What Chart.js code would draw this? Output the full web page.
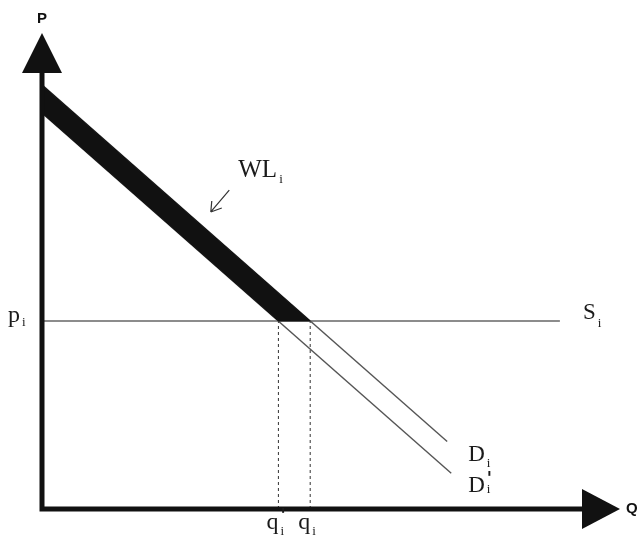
<!DOCTYPE html>
<html>
<head>
<meta charset="utf-8">
<script src="https://cdn.jsdelivr.net/npm/chart.js@4.4.1/dist/chart.umd.min.js"></script>
<style>
  html, body { margin: 0; padding: 0; background: #fff; }
</style>
</head>
<body>
<canvas id="wlChart" width="639" height="539"></canvas>
<script>
// values, both axes in 0-100 units
const priceLevel = 39.5;            // p_i (horizontal supply S_i)
const supplyEndX = 89.6;
const demandX = [0, 70.1];          // D_i
const demandY = [89.1, 14.2];
const demandShiftX = [0, 70.8];     // D_i'
const demandShiftY = [83.2, 7.5];
const quantities = [40.9, 46.4];    // q_i', q_i
const quantityPrimes = ["'", ""];
const wlArrowX = [32.4, 29.2];      // little pointer at the WL band
const wlArrowY = [67.0, 62.4];

const pts = (xs, ys) => xs.map((v, i) => ({ x: v, y: ys[i] }));

// lower edge of the black band: D_i' down to p_i, then along p_i to D_i
const bandLower = [
    { x: demandShiftX[0], y: demandShiftY[0] },
    { x: quantities[0], y: priceLevel },
    { x: quantities[1], y: priceLevel }
];
const bandUpper = [
    { x: demandX[0], y: demandY[0] },
    { x: quantities[1], y: priceLevel }
];

const thin = { showLine: true, pointRadius: 0, tension: 0, fill: false };

const datasets = [
    { ...thin, data: bandUpper, borderColor: '#111', borderWidth: 1,
      fill: '+1', backgroundColor: '#111' },
    { ...thin, data: bandLower, borderColor: '#111', borderWidth: 1 },
    { ...thin, data: pts(demandX, demandY), borderColor: '#555', borderWidth: 1.4 },
    { ...thin, data: pts(demandShiftX, demandShiftY), borderColor: '#555', borderWidth: 1.4 },
    { ...thin, data: [{ x: 0, y: priceLevel }, { x: supplyEndX, y: priceLevel }],
      borderColor: '#666', borderWidth: 1.3 }
];
quantities.forEach(q => {
    datasets.push({ ...thin, data: [{ x: q, y: 0 }, { x: q, y: priceLevel }],
        borderColor: '#333', borderWidth: 1, borderDash: [3, 3] });
});

function label(ctx, main, sub, prime, x, y, size, subDrop) {
    ctx.font = size + 'px "Liberation Serif", serif';
    ctx.textBaseline = 'alphabetic';
    ctx.textAlign = 'left';
    ctx.fillText(main, x, y);
    const w = ctx.measureText(main).width;
    ctx.font = '13px "Liberation Serif", serif';
    ctx.fillText(sub, x + w + 2, y + subDrop);
    if (prime) {
        ctx.font = 'bold 17px "DejaVu Sans", sans-serif';
        ctx.fillText(prime, x + w + 2, y - 8);
    }
}

const diagram = {
    id: 'diagram',
    afterDatasetsDraw(chart) {
        const { ctx } = chart;
        const sx = chart.scales.x, sy = chart.scales.y;
        const X = v => sx.getPixelForValue(v);
        const Y = v => sy.getPixelForValue(v);
        const x0 = X(0), y0 = Y(0);
        ctx.save();
        ctx.fillStyle = '#111';
        ctx.strokeStyle = '#111';

        // axes
        ctx.lineWidth = 5;
        ctx.beginPath();
        ctx.moveTo(x0, Y(92));
        ctx.lineTo(x0, y0);
        ctx.lineTo(X(94), y0);
        ctx.stroke();

        // arrow heads
        const yTip = Y(100), xTip = X(100);
        ctx.beginPath();
        ctx.moveTo(x0, yTip);
        ctx.lineTo(x0 + 20, yTip + 40);
        ctx.lineTo(x0 - 20, yTip + 40);
        ctx.closePath();
        ctx.fill();
        ctx.beginPath();
        ctx.moveTo(xTip, y0);
        ctx.lineTo(xTip - 38, y0 - 20);
        ctx.lineTo(xTip - 38, y0 + 20);
        ctx.closePath();
        ctx.fill();

        ctx.font = 'bold 15px "Liberation Sans", Arial, sans-serif';
        ctx.textAlign = 'center';
        ctx.textBaseline = 'middle';
        ctx.fillText('P', x0, yTip - 14);
        ctx.textAlign = 'left';
        ctx.fillText('Q', xTip + 6, y0);

        // WL pointer
        const ax1 = X(wlArrowX[0]), ay1 = Y(wlArrowY[0]);
        const ax2 = X(wlArrowX[1]), ay2 = Y(wlArrowY[1]);
        ctx.strokeStyle = '#333';
        ctx.lineWidth = 1.2;
        ctx.beginPath();
        ctx.moveTo(ax1, ay1);
        ctx.lineTo(ax2, ay2);
        ctx.moveTo(ax2, ay2);
        ctx.lineTo(ax2 + 1, ay2 - 11);
        ctx.moveTo(ax2, ay2);
        ctx.lineTo(ax2 + 11, ay2 - 4);
        ctx.stroke();

        // text labels
        ctx.fillStyle = '#1a1a1a';
        label(ctx, 'WL', 'i', '', ax1 + 9, ay1 - 13, 25, 6);
        label(ctx, 'p', 'i', '', x0 - 34, Y(priceLevel) + 1, 24, 4);
        label(ctx, 'S', 'i', '', X(supplyEndX) + 23, Y(priceLevel) - 2, 23, 8);
        label(ctx, 'D', 'i', '', X(demandX[1]) + 21, Y(demandY[1]) + 20, 23, 6);
        label(ctx, 'D', 'i', "'", X(demandShiftX[1]) + 17, Y(demandShiftY[1]) + 19, 23, 1);
        quantities.forEach((q, i) => {
            label(ctx, 'q', 'i', quantityPrimes[i], X(q) - 12, y0 + 20, 24, 6);
        });
        ctx.restore();
    }
};

new Chart(document.getElementById('wlChart'), {
    type: 'scatter',
    data: { datasets: datasets },
    options: {
        responsive: false,
        animation: false,
        layout: { padding: { left: 42, right: 19, top: 33, bottom: 30 } },
        scales: {
            x: { type: 'linear', min: 0, max: 100, display: false },
            y: { type: 'linear', min: 0, max: 100, display: false }
        },
        plugins: { legend: { display: false }, tooltip: { enabled: false } }
    },
    plugins: [diagram]
});
</script>
</body>
</html>
